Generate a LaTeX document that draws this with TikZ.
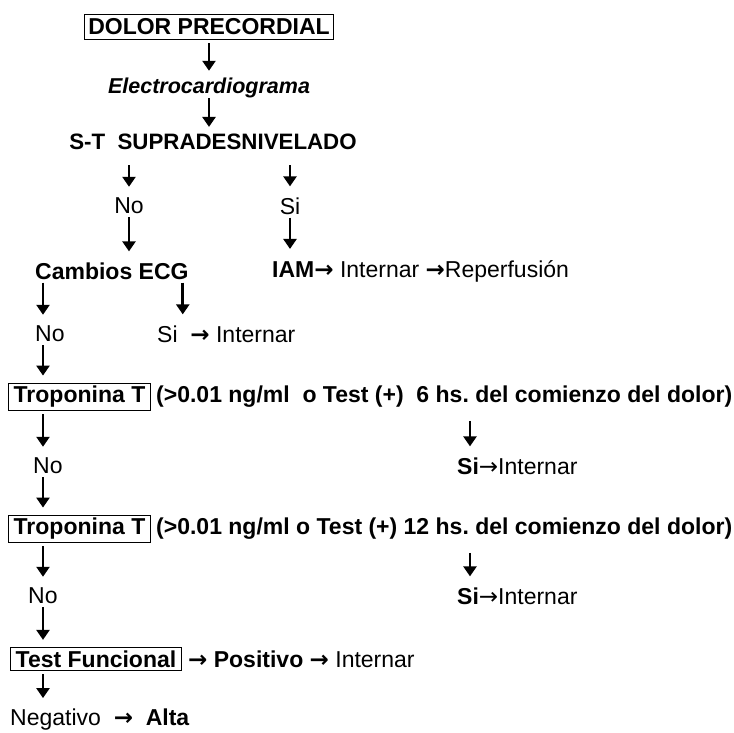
\documentclass[tikz,border=0pt]{standalone}
\usepackage{fontspec}
\setmainfont{Liberation Sans}
\newfontfamily\arrowfont{DejaVu Sans}
\newcommand{\ra}{{\arrowfont →}}
\newcommand{\dpfont}{\fontsize{23}{27}\selectfont}
\usetikzlibrary{arrows.meta,positioning}
\definecolor{dpInk}{HTML}{000000}
\tikzset{
  dp box/.style={draw=dpInk, line width=1.4pt, inner xsep=5pt, inner ysep=3pt, font=\dpfont\bfseries, text=dpInk},
  dp bold/.style={inner sep=0pt, font=\dpfont\bfseries, text=dpInk},
  dp text/.style={inner sep=0pt, font=\dpfont, text=dpInk},
  dp arrow/.style={draw=dpInk, line width=2.8pt, -{Triangle[width=13pt,length=10pt]}, shorten <=3pt, shorten >=11pt},
  dp arrow box/.style={dp arrow, shorten >=7pt},
}
\frenchspacing
\begin{document}
\begin{tikzpicture}[x=1pt,y=-1pt]
  \useasboundingbox (0,0) rectangle (734,733);
  \coordinate (lcol) at (43,0);
  % Top of the chart
  \node[dp box, inner xsep=4pt, inner ysep=4.5pt] (dolor) at (209,27) {DOLOR PRECORDIAL};
  \node[dp bold, font=\fontsize{21.5}{26}\selectfont\bfseries\itshape] (ecg) at (209,88) {Electrocardiograma};
  \node[dp bold, font=\fontsize{22.3}{26}\selectfont\bfseries] (st) at (213,142) {S-T\ \ SUPRADESNIVELADO};
  \node[dp text] (no1) at (129,206) {No};
  \node[dp text] (si1) at (290,206) {Si};
  \node[dp bold, anchor=west] (cambios) at (35,271) {Cambios ECG};
  \node[dp text, anchor=west] (iam) at (272,271) {\textbf{IAM\ra} Internar \textbf{\ra}Reperfusión};
  \node[dp text, anchor=west] (no2) at (35,334) {No};
  \node[dp text, anchor=west] (si2) at (157,334) {Si\ \ \textbf{\ra}\ Internar};
  % First troponin
  \node[dp box, anchor=west] (trop1) at (8,397) {Troponina T};
  \node[dp bold, anchor=west] (crit1) at ([xshift=5pt]trop1.east) {(>0.01 ng/ml\ \ o Test (+)\ \ 6 hs. del comienzo del dolor)};
  \node[dp text, anchor=west] (no3) at (33,466) {No};
  \node[dp text, anchor=west] (si3) at (457,466) {\textbf{Si}\ra Internar};
  % Second troponin
  \node[dp box, anchor=west] (trop2) at (8,529) {Troponina T};
  \node[dp bold, anchor=west] (crit2) at ([xshift=5pt]trop2.east) {(>0.01 ng/ml o Test (+) 12 hs. del comienzo del dolor)};
  \node[dp text, anchor=west] (no4) at (28,596) {No};
  \node[dp text, anchor=west] (si4) at (457,596) {\textbf{Si}\ra Internar};
  % Functional test
  \node[dp box, anchor=west] (test) at (10,659) {Test Funcional};
  \node[dp text, anchor=west] (pos) at ([xshift=6pt]test.east) {\textbf{\ra\ Positivo \ra}\ Internar};
  \node[dp text, anchor=west] (neg) at (10,720) {Negativo\ \ \textbf{\ra}\ \ \textbf{Alta}};

  \draw[dp arrow box] (dolor.south) -- (dolor.south |- ecg.north);
  \draw[dp arrow box, shorten <=0pt] (ecg.south) -- (ecg.south |- st.north);
  \draw[dp arrow, shorten <=15pt] (st.south -| no1) -- (no1);
  \draw[dp arrow, shorten <=15pt] (st.south -| si1) -- (si1);
  \draw[dp arrow] (no1) -- (no1 |- cambios.north);
  \draw[dp arrow] (si1) -- (si1 |- iam.north);
  \draw[dp arrow] (cambios.south -| lcol) -- (no2.north -| lcol);
  \draw[dp arrow] ([xshift=-6pt]cambios.south east) -- ([xshift=-6pt]cambios.south east |- si2.north);
  \draw[dp arrow box] (no2.south -| lcol) -- (trop1.north -| lcol);
  \draw[dp arrow] (trop1.south -| lcol) -- (no3.north -| lcol);
  \draw[dp arrow, shorten <=13pt] ([xshift=13pt]crit1.south -| si3.west) -- ([xshift=13pt]si3.north west);
  \draw[dp arrow box] (no3.south -| lcol) -- (trop2.north -| lcol);
  \draw[dp arrow] (trop2.south -| lcol) -- (no4.north -| lcol);
  \draw[dp arrow, shorten <=13pt] ([xshift=13pt]crit2.south -| si4.west) -- ([xshift=13pt]si4.north west);
  \draw[dp arrow box] (no4.south -| lcol) -- (test.north -| lcol);
  \draw[dp arrow] (test.south -| lcol) -- (neg.north -| lcol);
\end{tikzpicture}
\end{document}
